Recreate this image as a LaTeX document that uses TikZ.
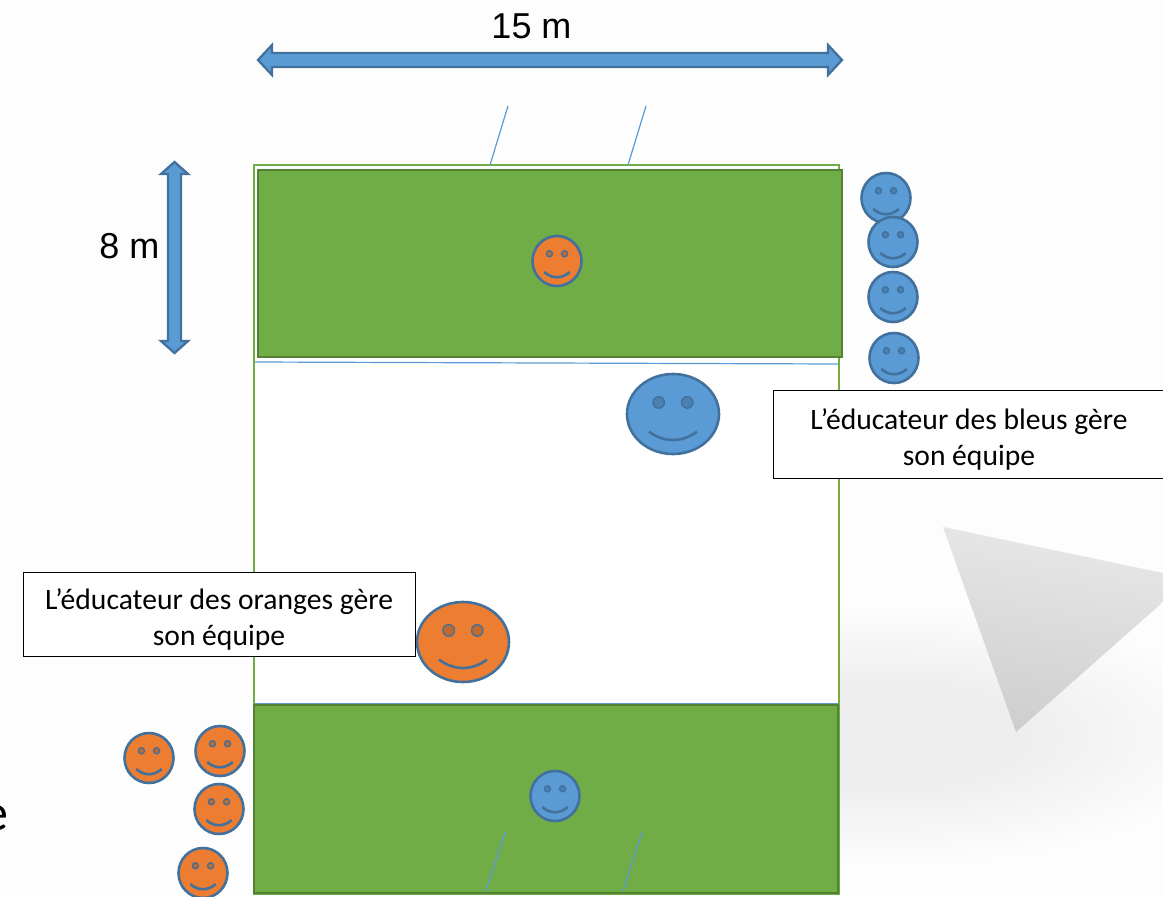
\documentclass[tikz,border=0pt]{standalone}
\usepackage{fontspec}
\setmainfont{Liberation Sans}
\newfontfamily\boxfont{Carlito}
\usetikzlibrary{shapes.geometric,shadings}
\definecolor{fieldg}{HTML}{70AD47}
\definecolor{fieldd}{HTML}{548235}
\definecolor{bluef}{HTML}{5B9BD5}
\definecolor{blued}{HTML}{41719C}
\definecolor{orangef}{HTML}{ED7D31}
\definecolor{eyeb}{HTML}{4A80B2}
\definecolor{eyeo}{HTML}{C4692E}
\definecolor{bgc}{HTML}{FDFDFD}
\definecolor{bandc}{HTML}{EEEEEE}
\definecolor{trilight}{HTML}{E8E8E8}
\definecolor{tridark}{HTML}{CECECE}
\pgfdeclareradialshading{softband}{\pgfpointorigin}{color(0bp)=(bandc); color(10bp)=(bandc); color(25bp)=(bgc); color(50bp)=(bgc)}
\tikzset{
  fieldbox/.style={fill=fieldg,draw=fieldd,line width=2.6pt},
  outerbox/.style={draw=fieldg,fill=white,line width=2.4pt},
  thinline/.style={draw=bluef,line width=1.2pt},
  dimarrow/.style={fill=bluef,draw=blued,line width=2.3pt,line join=miter},
  facebase/.style={ellipse,inner sep=0pt,outer sep=0pt,draw=blued,line width=2.6pt},
  noteBox/.style={draw=black,fill=white,line width=1pt,inner sep=0pt,align=center,font=\boxfont\fontsize{29.6}{36}\selectfont},
  dimtext/.style={font=\fontsize{36}{40}\selectfont,inner sep=0pt,text=black}
}
\newcommand{\myface}[7]{%
  \node[facebase,fill=#6,minimum width={2*#4pt},minimum height={2*#5pt}] (#1) at (#2,#3) {};
  \begin{scope}[shift={(#2,#3)}]
    \filldraw[fill=#7,draw=blued,line width=1.4pt] ({-.31*#4},{-.29*#5}) circle[radius={.125*#4}];
    \filldraw[fill=#7,draw=blued,line width=1.4pt] ({.31*#4},{-.29*#5}) circle[radius={.125*#4}];
    \draw[blued,line width=2.6pt] ({-.52*#4},{.44*#5}) .. controls ({-.2*#4},{.72*#5}) and ({.2*#4},{.72*#5}) .. ({.52*#4},{.44*#5});
  \end{scope}
}
\begin{document}
\begin{tikzpicture}[x=1pt,y=-1pt]
\useasboundingbox (0,0) rectangle (1163,897);
% background
\fill[bgc] (0,0) rectangle (1163,897);
\begin{scope}
  \clip (0,0) rectangle (1163,897);
  \shade[shading=softband] (520,605) rectangle (1240,865);
  \shade[top color=trilight,bottom color=tridark,shading angle=-10]
    (943,527) -- (1163,573) -- (1163,602) -- (1016,732) -- cycle;
\end{scope}
% pitch
\draw[outerbox] (254,165) rectangle (839,894);
\coordinate (lineA1) at (508,106); \coordinate (lineA2) at (490,165);
\coordinate (lineB1) at (646,106); \coordinate (lineB2) at (628,165);
\coordinate (lineC1) at (505,832); \coordinate (lineC2) at (486,891);
\coordinate (lineD1) at (642,832); \coordinate (lineD2) at (623,891);
\coordinate (lineE1) at (255,362); \coordinate (lineE2) at (838,364);
\coordinate (lineF1) at (255,704); \coordinate (lineF2) at (838,704);
\draw[thinline] (lineA1) -- (lineA2);
\draw[thinline] (lineB1) -- (lineB2);
\draw[thinline] (lineE1) -- (lineE2);
\draw[thinline] (lineF1) -- (lineF2);
\draw[fieldbox] (258,170) rectangle (842,357);
\draw[fieldbox] (254,705) rectangle (838,893);
\draw[thinline] (lineC1) -- (lineC2);
\draw[thinline] (lineD1) -- (lineD2);
% dimension arrows
\draw[dimarrow] (258,60) -- (272,45) -- (272,53) -- (828,53) -- (828,45) -- (842,60) -- (828,75) -- (828,67) -- (272,67) -- (272,75) -- cycle;
\draw[dimarrow] (174.5,162) -- (188,174) -- (181,174) -- (181,341) -- (188,341) -- (174.5,353) -- (161,341) -- (168,341) -- (168,174) -- (161,174) -- cycle;
\node[dimtext,anchor=base] (dimW) at (531.5,38) {15 m};
\node[dimtext,anchor=base] (dimH) at (129.5,258) {8 m};
% letter cut off by the left edge, as in the reference
\node[anchor=base east,inner sep=0pt,font=\boxfont\fontsize{52}{60}\selectfont] (leftE) at (9,830) {e};
% faces
\myface{fO}{557}{261}{24.5}{25}{orangef}{eyeo}
\myface{fB}{555}{796}{24.5}{25}{bluef}{eyeb}
\myface{bA}{886}{198}{24.5}{25}{bluef}{eyeb}
\myface{bB}{893}{242}{24.5}{25}{bluef}{eyeb}
\myface{bC}{893}{297}{24.5}{25}{bluef}{eyeb}
\myface{bD}{894}{358}{24.5}{25}{bluef}{eyeb}
\myface{bBig}{673}{414}{46}{40}{bluef}{eyeb}
\myface{oBig}{463}{642}{46}{40}{orangef}{eyeo}
\myface{oA}{149}{758}{24.5}{25}{orangef}{eyeo}
\myface{oB}{220}{751}{24.5}{25}{orangef}{eyeo}
\myface{oC}{219}{809}{24.5}{25}{orangef}{eyeo}
\myface{oD}{203}{873}{24.5}{25}{orangef}{eyeo}
% notes
\node[noteBox,minimum width=392pt,minimum height=88pt] (noteB) at (969,434) {\rule{0pt}{32pt}L’éducateur des bleus gère\\son équipe};
\node[noteBox,minimum width=392pt,minimum height=84pt] (noteO) at (219,614) {\rule{0pt}{32pt}L’éducateur des oranges gère\\son équipe};
\end{tikzpicture}
\end{document}
